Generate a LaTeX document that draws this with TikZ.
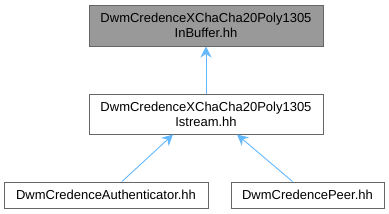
\documentclass[tikz,border=0pt]{standalone}
\usepackage{fontspec}
\setmainfont{Liberation Sans}
\usetikzlibrary{arrows.meta}

\definecolor{edgeblue}{HTML}{63B8FF}
\definecolor{boxline}{HTML}{666666}
\definecolor{boxfill}{HTML}{999999}

\tikzset{
  filebox/.style={draw=boxline, line width=1pt, fill=white, inner sep=0pt,
    align=center, font=\fontsize{13}{15}\selectfont},
  incl/.style={draw=edgeblue, line width=0.9pt, -{Stealth[length=11pt,width=11pt]}}
}

\begin{document}
\begin{tikzpicture}[x=1pt,y=-1pt]
\useasboundingbox (0,0) rectangle (389,214);

% Ganz oben
\node[filebox, fill=boxfill, minimum width=234pt, minimum height=41pt] (inbuf) at (206,25.5)
  {DwmCredenceXChaCha20Poly1305\\InBuffer.hh};

% Mitte
\node[filebox, minimum width=234pt, minimum height=40pt] (istream) at (206,114)
  {DwmCredenceXChaCha20Poly1305\\Istream.hh};

% Unten
\node[filebox, minimum width=204pt, minimum height=26pt] (auth) at (106,195)
  {DwmCredenceAuthenticator.hh};
\node[filebox, minimum width=153pt, minimum height=26pt] (peer) at (307.5,195)
  {DwmCredencePeer.hh};

\draw[incl] (istream) -- (inbuf);
\draw[incl] ([xshift=16pt]auth.north) -- ([xshift=-33pt]istream.south);
\draw[incl] ([xshift=-15pt]peer.north) -- ([xshift=31pt]istream.south);

\end{tikzpicture}
\end{document}
